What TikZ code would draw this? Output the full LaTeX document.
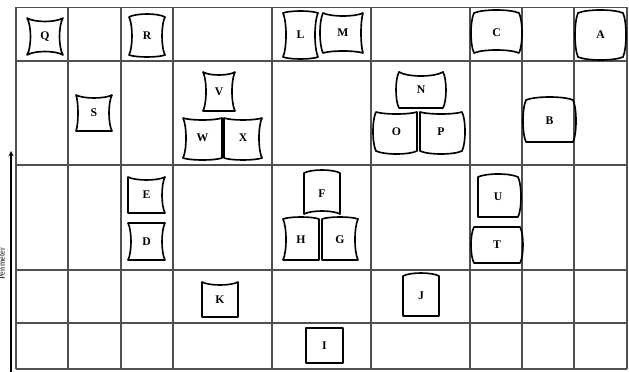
\documentclass[tikz,border=0pt]{standalone}
\usepackage{fontspec}
\setmainfont{Liberation Serif}
\usepackage{tikz}
\usetikzlibrary{arrows.meta, positioning, calc}
\definecolor{gridgray}{RGB}{80,80,80}

\begin{document}
\begin{tikzpicture}[
    x=0.03cm, y=-0.03cm,
    gridline/.style={draw=gridgray, line width=0.9pt},
    tile/.style={draw=black, line width=1.4pt, line join=round},
    tilelabel/.style={font=\fontsize{10}{11}\selectfont\bfseries, inner sep=0pt},
    arrow/.style={->, >=stealth, line width=1pt},
    axislabel/.style={font=\scriptsize, inner sep=0pt}
]
\useasboundingbox (0,0) rectangle (629,372);

% grid
\foreach \x in {16, 68, 121, 173, 272, 371, 470, 522, 574, 627}
    \draw[gridline] (\x,7.5) -- (\x,369);
\foreach \y in {7.5, 61, 165, 270, 323, 369}
    \draw[gridline] (16,\y) -- (627,\y);

% axis
\coordinate (axisbot) at (11,380);
\coordinate (axistop) at (11,151);
\draw[arrow] (axisbot) -- (axistop);
\node[axislabel, rotate=90] (perim) at (2,264) {Perimeter};

% tiles: name/x1/y1/x2/y2/top/right/bottom/left (bulge, + is outward)
\foreach \n/\xa/\ya/\xb/\yb/\t/\r/\b/\l in {
    Q/27/18/63/55/-3.5/-3.5/-3.5/-3.5,
    R/129/17/165/55/3/-3/2/-3,
    S/76/95/112/131/-3/-3/0/-2,
    L/283/13/318/57/2/-3/2/-3,
    M/323/13/363/53/-3/-2/-2/3,
    C/474/13/519/53/3/3/-3/3,
    A/578/13/623/57/3/3/3/3,
    V/203/72/235/111/-3/-3/0/-3,
    W/183/118/222/158/-2/0/2/-3,
    X/224/118/262/158/-2/-3/2/0,
    N/399/72/443/108/-4/3/0/3,
    O/376/112/417/151/-2/0/3/3,
    P/420/112/462/151/-2/3/3/0,
    B/526/100/573/142/3/3/0/3,
    E/128/177/165/213/-3/-3/0/0,
    D/128/223/165/260/0/-3/0/-3,
    F/304/173/340/214/3/0/-3/0,
    H/283/219/319/260/2/0/0/-3,
    G/322/219/358/260/2/-3/0/0,
    K/202/282/238/317/-3/0/0/0,
    I/306/328/343/363/0/0/0/0,
    U/478/177/518/217/3/3/0/0,
    T/474/227/520/263/0/3/0/3,
    J/403/276/439/316/3/0/0/0} {
    \pgfmathsetmacro{\xm}{(\xa+\xb)/2}
    \pgfmathsetmacro{\ym}{(\ya+\yb)/2}
    \pgfmathsetmacro{\xp}{\xa+0.2*(\xb-\xa)}
    \pgfmathsetmacro{\xq}{\xb-0.2*(\xb-\xa)}
    \pgfmathsetmacro{\yp}{\ya+0.2*(\yb-\ya)}
    \pgfmathsetmacro{\yq}{\yb-0.2*(\yb-\ya)}
    \pgfmathsetmacro{\ct}{\ya-1.33*\t}
    \pgfmathsetmacro{\cr}{\xb+1.33*\r}
    \pgfmathsetmacro{\cb}{\yb+1.33*\b}
    \pgfmathsetmacro{\cl}{\xa-1.33*\l}
    \draw[tile] (\xa,\ya) .. controls (\xp,\ct) and (\xq,\ct) .. (\xb,\ya)
        .. controls (\cr,\yp) and (\cr,\yq) .. (\xb,\yb)
        .. controls (\xq,\cb) and (\xp,\cb) .. (\xa,\yb)
        .. controls (\cl,\yq) and (\cl,\yp) .. cycle;
    \node[tilelabel] (\n) at (\xm,\ym) {\n};
}

\end{tikzpicture}
\end{document}
